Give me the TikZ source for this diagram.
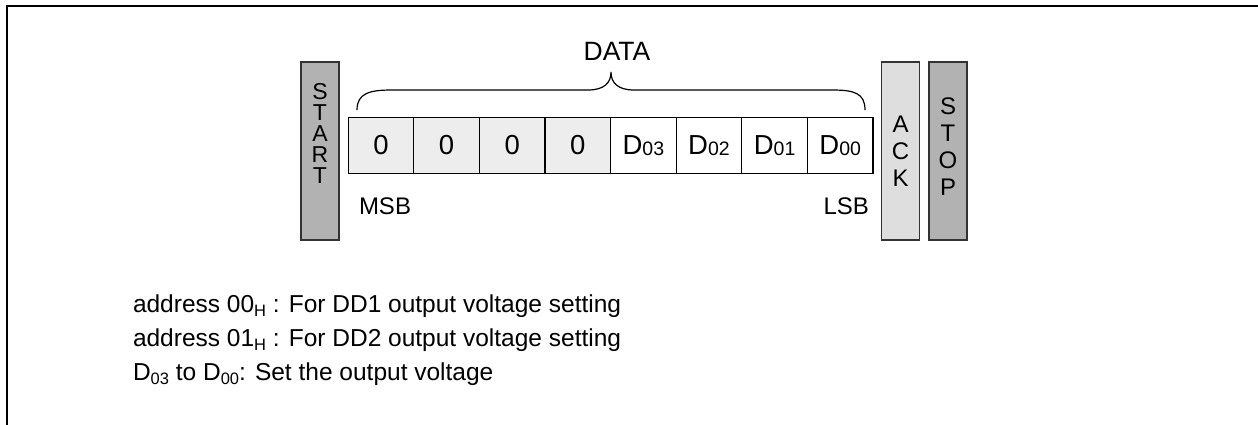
\documentclass[tikz,border=0pt]{standalone}
\usepackage{fontspec}
\setmainfont{Liberation Sans}
\newcommand\subtxt[2]{\raisebox{#1}{\fontsize{16.5}{16.5}\selectfont #2}}
\newcommand\cellsub[1]{\raisebox{-1.5pt}{\fontsize{19.5}{19.5}\selectfont #1}}
\begin{document}
\begin{tikzpicture}[x=1pt,y=-1pt,
  every node/.style={inner sep=0pt, outer sep=0pt},
  bar/.style={draw=black!80, line width=1.2pt, minimum width=38pt, minimum height=178pt},
  darkbar/.style={bar, fill=black!30},
  lightbar/.style={bar, fill=black!13},
  cell/.style={draw=black, line width=1.3pt, minimum width=65.6pt, minimum height=56pt, font=\fontsize{27.5}{27.5}\selectfont},
  zcell/.style={cell, fill=black!7},
  dcell/.style={cell, fill=white},
  label/.style={font=\fontsize{24}{24}\selectfont},
  note/.style={font=\fontsize{24.5}{34}\selectfont, anchor=base west},
  stackA/.style={font=\fontsize{23}{21}\selectfont, align=center},
  stackB/.style={font=\fontsize{24}{27}\selectfont, align=center},
]
\useasboundingbox (0,0) rectangle (1258,425);
% frame
\draw[line width=2pt] (7,425) -- (7,6) -- (1258,6);

% START / ACK / STOP
\node[darkbar] (start) at (320,151) {};
\node[stackA] (starttxt) at (320,133) {S\\T\\A\\R\\T};
\node[lightbar] (ack) at (900.5,151) {};
\node[stackB] (acktxt) at (900.5,151.4) {A\\C\\K};
\node[darkbar] (stop) at (948,151) {};
\node[stackB] (stoptxt) at (948,146.5) {S\\T\\O\\P};

% data cells
\node[zcell] (c1) at (381.0,145.5) {0};
\node[zcell] (c2) at (446.6,145.5) {0};
\node[zcell] (c3) at (512.2,145.5) {0};
\node[zcell] (c4) at (577.8,145.5) {0};
\node[dcell] (c5) at (643.4,145.5) {D\cellsub{03}};
\node[dcell] (c6) at (709.0,145.5) {D\cellsub{02}};
\node[dcell] (c7) at (774.6,145.5) {D\cellsub{01}};
\node[dcell] (c8) at (840.2,145.5) {D\cellsub{00}};

% brace
\coordinate (bl) at (357,110);
\coordinate (tip) at (611,72);
\coordinate (br) at (865,110);
\draw[line width=1.2pt] (bl) .. controls (357,93) and (370,90) .. (392,90)
  -- (588,90) .. controls (604,90) and (611,83) .. (tip)
  .. controls (611,83) and (618,90) .. (634,90)
  -- (832,90) .. controls (854,90) and (865,93) .. (br);
\node[font=\fontsize{26.5}{26.5}\selectfont, anchor=base] (data) at (617,61) {DATA};

\node[label, anchor=base west] (msb) at (359,214) {MSB};
\node[label, anchor=base east] (lsb) at (869,214) {LSB};

% notes
\node[note] (n1) at (133,312) {address 00\subtxt{-4pt}{H} : For DD1 output voltage setting};
\node[note] (n2) at (133,346) {address 01\subtxt{-4pt}{H} : For DD2 output voltage setting};
\node[note] (n3) at (133,380) {D\subtxt{-4pt}{03} to D\subtxt{-4pt}{00}: Set the output voltage};
\end{tikzpicture}
\end{document}
